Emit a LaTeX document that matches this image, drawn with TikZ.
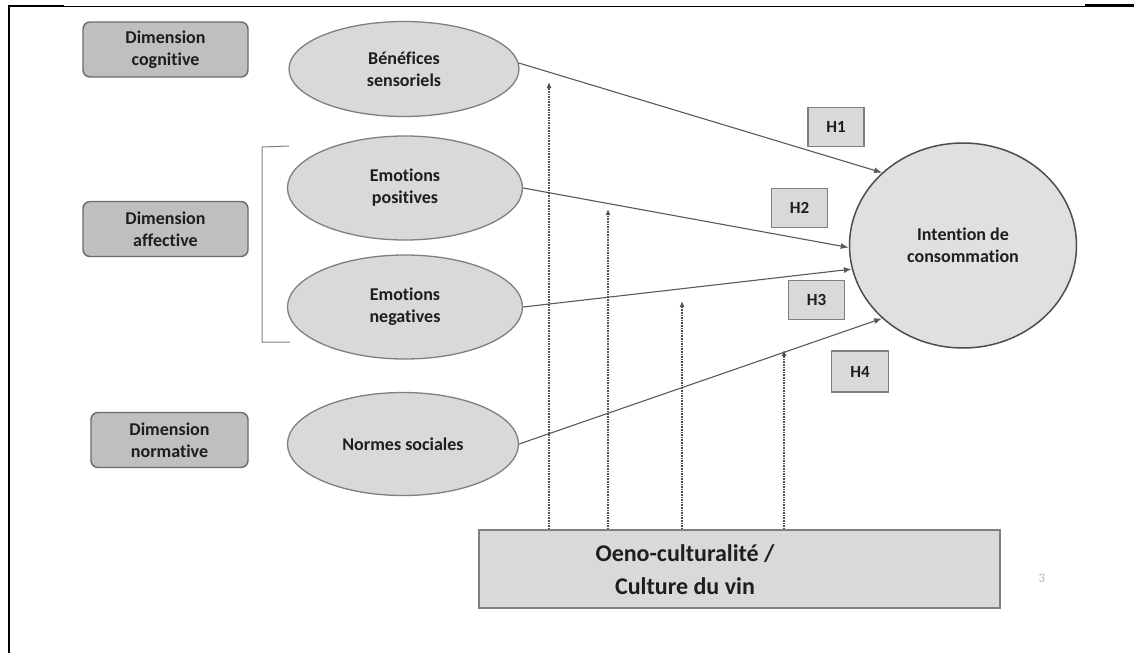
\documentclass[tikz,border=0pt]{standalone}
\usepackage{fontspec}
\setmainfont{Carlito}[Ligatures=NoCommon]
\usetikzlibrary{shapes.geometric,arrows.meta}
\definecolor{dimfill}{HTML}{BFBFBF}
\definecolor{dimdraw}{HTML}{6A6A6A}
\definecolor{elfill}{HTML}{D9D9D9}
\definecolor{eldraw}{HTML}{7F7F7F}
\definecolor{circfill}{HTML}{E0E0E0}
\definecolor{circdraw}{HTML}{4D4D4D}
\definecolor{linecol}{HTML}{595959}
\definecolor{modcol}{HTML}{505050}
\definecolor{txt}{HTML}{1E1E1E}
\begin{document}
\begin{tikzpicture}[x=1pt,y=-1pt,
  dimbox/.style={draw=dimdraw, line width=1.4pt, fill=dimfill, rounded corners=7pt,
    minimum width=165pt, minimum height=55pt, inner sep=0pt, align=center,
    font=\bfseries\fontsize{18}{22}\selectfont, text=txt},
  elnode/.style={ellipse, draw=eldraw, line width=1.3pt, fill=elfill, inner sep=0pt,
    minimum width=232pt, minimum height=102pt, align=center,
    font=\bfseries\fontsize{18}{22}\selectfont, text=txt},
  hbox/.style={draw=eldraw, line width=1.3pt, fill=elfill, inner sep=0pt,
    minimum width=56pt, minimum height=39pt, font=\bfseries\fontsize{17}{18}\selectfont, text=txt},
  conn/.style={draw=linecol, line width=1.1pt, -{Latex[length=8pt,width=6pt]}},
  modarrow/.style={draw=modcol, line width=1.2pt, dash pattern=on 1.6pt off 1pt,
    -{Latex[length=6pt,width=5pt]}},
]
\useasboundingbox (0,0) rectangle (1134,653);
% frame
\draw[black, line width=1pt] (9,6) -- (1134,6);
\draw[black, line width=2.5pt] (9,6) -- (64,6);
\draw[black, line width=2.5pt] (1085,5) -- (1134,5);
\draw[black, line width=2.5pt] (9,5) -- (9,653);

% dimension boxes
\node[dimbox] (dcog) at (165.5,49.5) {Dimension\\cognitive};
\node[dimbox] (daff) at (165.5,229) {Dimension\\affective};
\node[dimbox, minimum width=157pt] (dnorm) at (169.5,440) {Dimension\\normative};

% bracket
\draw[eldraw, line width=1pt] (289,146) -- (262,147) -- (262,342) -- (290,342);

% ellipses
\node[elnode, minimum width=230pt, minimum height=95pt] (ben) at (404,69) {Bénéfices\\sensoriels};
\node[elnode, minimum width=235pt, minimum height=104pt] (pos) at (405,188) {Emotions\\positives};
\node[elnode, minimum width=235pt, minimum height=104pt] (neg) at (405,307) {Emotions\\negatives};
\node[elnode, minimum width=231pt, minimum height=103pt] (norm) at (403,444) {Normes sociales};

% intention
\node[ellipse, draw=circdraw, line width=1.5pt, fill=circfill, inner sep=0pt,
  minimum width=227pt, minimum height=205pt, align=center,
  font=\bfseries\fontsize{18}{22}\selectfont, text=txt] (int) at (963,245.5) {Intention de\\consommation};

% H boxes
\node[hbox] (h1) at (836,127) {H1};
\node[hbox] (h2) at (799.5,208) {H2};
\node[hbox] (h3) at (816.5,300) {H3};
\node[hbox, minimum width=57pt, minimum height=41pt] (h4) at (860,371.5) {H4};

% culture box
\node[draw=eldraw, line width=1.4pt, fill=elfill, minimum width=521pt, minimum height=78pt,
  inner sep=0pt] (cult) at (739.5,569) {};
\node[align=center, inner sep=0pt, font=\bfseries\fontsize{24}{33}\selectfont, text=txt]
  (cultlabel) at (685,570) {Oeno-culturalité /\\Culture du vin};

% page number
\node[font=\fontsize{13}{14}\selectfont, text=gray!55] (pnum) at (1042,578) {3};

% main connectors
\draw[conn] (ben.3) -- (int.138);
\draw[conn] (pos.east) -- (int.181);
\draw[conn] (neg.east) -- (int.192);
\draw[conn] (norm.east) -- (int.222);

% moderating arrows
\coordinate (t1) at (549,82);
\coordinate (t2) at (608,209);
\coordinate (t3) at (682,301);
\coordinate (t4) at (784,350);
\draw[modarrow] (t1 |- cult.north) -- (t1);
\draw[modarrow] (t2 |- cult.north) -- (t2);
\draw[modarrow] (t3 |- cult.north) -- (t3);
\draw[modarrow] (t4 |- cult.north) -- (t4);
\end{tikzpicture}
\end{document}
